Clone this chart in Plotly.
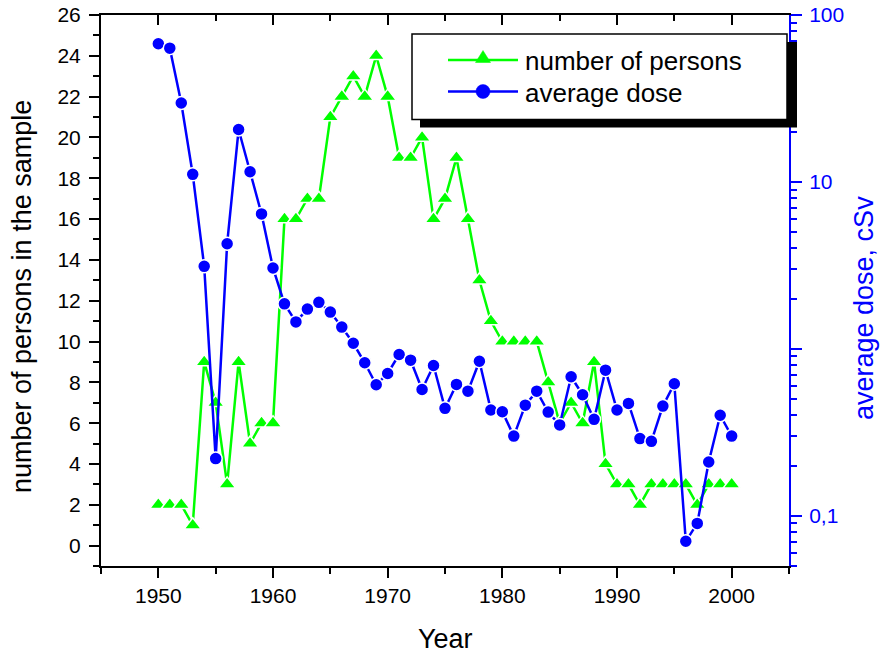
import math
import plotly.graph_objects as go

# Yearly sample size and mean dose, 1950-2000
years = list(range(1950, 2001))
persons = [2, 2, 2, 1, 9, 7, 3, 9, 5, 6,
           6, 16, 16, 17, 17, 21, 22, 23, 22, 24,
           22, 19, 19, 20, 16, 17, 19, 16, 13, 11,
           10, 10, 10, 10, 8, 6, 7, 6, 9, 4,
           3, 3, 2, 3, 3, 3, 3, 2, 3, 3,
           3]
dose = [67.3, 63.3, 29.7, 11.1, 3.12, 0.22, 4.26, 20.6, 11.5, 6.43,
        3.05, 1.86, 1.45, 1.73, 1.90, 1.66, 1.35, 1.08, 0.825, 0.609,
        0.712, 0.925, 0.855, 0.571, 0.795, 0.44, 0.612, 0.558, 0.843, 0.43,
        0.42, 0.30, 0.46, 0.558, 0.418, 0.35, 0.68, 0.531, 0.378, 0.745,
        0.43, 0.471, 0.29, 0.279, 0.454, 0.618, 0.0703, 0.090, 0.21, 0.40,
        0.30]

dose_ticks = [0.1, 1, 10, 100]
dose_ticktext = ["0,1", "", "10", "100"]
dose_minor = [m * 10.0 ** e for e in range(-2, 2) for m in range(2, 10)]

GREEN = "#00FF00"
BLUE = "#0000FF"
FONT = "Liberation Sans, Arial, sans-serif"

W, H = 881, 653
L, R, T, B = 101, 92, 15, 87
PW, PH = W - L - R, H - T - B


def fx(p):
    """pixel column -> paper x"""
    return (p - L) / PW


def fy(p):
    """pixel row -> paper y"""
    return (H - B - p) / PH


fig = go.Figure()

fig.add_trace(go.Scatter(
    x=years, y=persons, name="number of persons", mode="lines+markers",
    line=dict(color=GREEN, width=2.5),
    marker=dict(symbol="triangle-up", size=15, color=GREEN,
                line=dict(color="white", width=1.5)),
    xaxis="x", yaxis="y", showlegend=False))

fig.add_trace(go.Scatter(
    x=years, y=dose, name="average dose", mode="lines+markers",
    line=dict(color=BLUE, width=2.5),
    marker=dict(symbol="circle", size=13, color=BLUE,
                line=dict(color="white", width=1.5)),
    xaxis="x", yaxis="y2", showlegend=False))

# carrier for the mirrored top axis
fig.add_trace(go.Scatter(
    x=[years[0]], y=[persons[0]], mode="markers", marker=dict(opacity=0),
    xaxis="x2", yaxis="y", showlegend=False, hoverinfo="skip"))

tickfont = dict(family=FONT, size=21, color="black")

fig.update_layout(
    width=W, height=H,
    margin=dict(l=L, r=R, t=T, b=B, autoexpand=False),
    paper_bgcolor="white", plot_bgcolor="white",
    showlegend=False,
    font=dict(family=FONT),
    xaxis=dict(
        range=[1945, 2005], tick0=1950, dtick=10,
        ticks="outside", ticklen=10, tickwidth=2, tickcolor="black",
        showline=True, linecolor="black", linewidth=2,
        showgrid=False, zeroline=False, tickfont=tickfont,
        minor=dict(ticks="outside", ticklen=6, tickwidth=2, tickcolor="black",
                   tick0=1945, dtick=5, showgrid=False),
        anchor="y",
    ),
    xaxis2=dict(
        range=[1945, 2005], overlaying="x", side="top", anchor="y",
        tick0=1950, dtick=10, ticks="inside", ticklen=10, tickwidth=2,
        tickcolor="black", showticklabels=False,
        showline=True, linecolor="black", linewidth=2,
        showgrid=False, zeroline=False,
        minor=dict(ticks="inside", ticklen=6, tickwidth=2, tickcolor="black",
                   tick0=1945, dtick=5, showgrid=False),
    ),
    yaxis=dict(
        range=[-1, 26], tick0=0, dtick=2,
        ticks="outside", ticklen=10, tickwidth=2, tickcolor="black",
        showline=True, linecolor="black", linewidth=2,
        showgrid=False, zeroline=False, tickfont=tickfont,
        ticklabelstandoff=4,
        minor=dict(ticks="outside", ticklen=6, tickwidth=2, tickcolor="black",
                   tick0=0, dtick=1, showgrid=False),
    ),
    yaxis2=dict(
        type="log", range=[math.log10(0.05), 2],
        overlaying="y", side="right", anchor="x",
        tickmode="array", tickvals=dose_ticks, ticktext=dose_ticktext,
        ticks="outside", ticklen=11, tickwidth=2, tickcolor=BLUE,
        showline=True, linecolor=BLUE, linewidth=2,
        showgrid=False, zeroline=False,
        tickfont=dict(family=FONT, size=21, color=BLUE),
        ticklabelstandoff=3,
        minor=dict(ticks="outside", ticklen=6, tickwidth=2, tickcolor=BLUE,
                   tickmode="array", tickvals=dose_minor, showgrid=False),
    ),
)

# axis titles
fig.add_annotation(text="Year", xref="paper", yref="paper",
                   x=fx(445), y=fy(638.5), xanchor="center", yanchor="middle",
                   showarrow=False, font=dict(family=FONT, size=27, color="black"))
fig.add_annotation(text="number of persons in the sample", xref="paper", yref="paper",
                   x=fx(22), y=fy(297), xanchor="center", yanchor="middle",
                   textangle=-90, showarrow=False,
                   font=dict(family=FONT, size=27, color="black"))
fig.add_annotation(text="average dose, cSv", xref="paper", yref="paper",
                   x=fx(864), y=fy(308), xanchor="center", yanchor="middle",
                   textangle=-90, showarrow=False,
                   font=dict(family=FONT, size=27, color=BLUE))

# legend box with drop shadow
shapes = [
    dict(type="rect", xref="paper", yref="paper",
         x0=fx(420), x1=fx(797), y0=fy(127.5), y1=fy(42),
         fillcolor="black", line=dict(width=0), layer="above"),
    dict(type="rect", xref="paper", yref="paper",
         x0=fx(412), x1=fx(787), y0=fy(119.5), y1=fy(34),
         fillcolor="white", line=dict(color="black", width=1.5), layer="above"),
    dict(type="line", xref="paper", yref="paper",
         x0=fx(448), x1=fx(518), y0=fy(60), y1=fy(60),
         line=dict(color=GREEN, width=2.5), layer="above"),
    dict(type="path", xref="paper", yref="paper",
         path="M {:.5f},{:.5f} L {:.5f},{:.5f} L {:.5f},{:.5f} Z".format(
             fx(475.5), fy(62.5), fx(490.5), fy(62.5), fx(483), fy(50.5)),
         fillcolor=GREEN, line=dict(color=GREEN, width=0.5), layer="above"),
    dict(type="line", xref="paper", yref="paper",
         x0=fx(448), x1=fx(518), y0=fy(91.5), y1=fy(91.5),
         line=dict(color=BLUE, width=2.5), layer="above"),
    dict(type="circle", xref="paper", yref="paper",
         x0=fx(476), x1=fx(490), y0=fy(98.5), y1=fy(84.5),
         fillcolor=BLUE, line=dict(color=BLUE, width=0.5), layer="above"),
]
fig.update_layout(shapes=shapes)

fig.add_annotation(text="number of persons", xref="paper", yref="paper",
                   x=fx(523), y=fy(60.6), xanchor="left", yanchor="middle",
                   showarrow=False, font=dict(family=FONT, size=26, color="black"))
fig.add_annotation(text="average dose", xref="paper", yref="paper",
                   x=fx(523), y=fy(93), xanchor="left", yanchor="middle",
                   showarrow=False, font=dict(family=FONT, size=26, color="black"))

fig.write_html("out.html")
